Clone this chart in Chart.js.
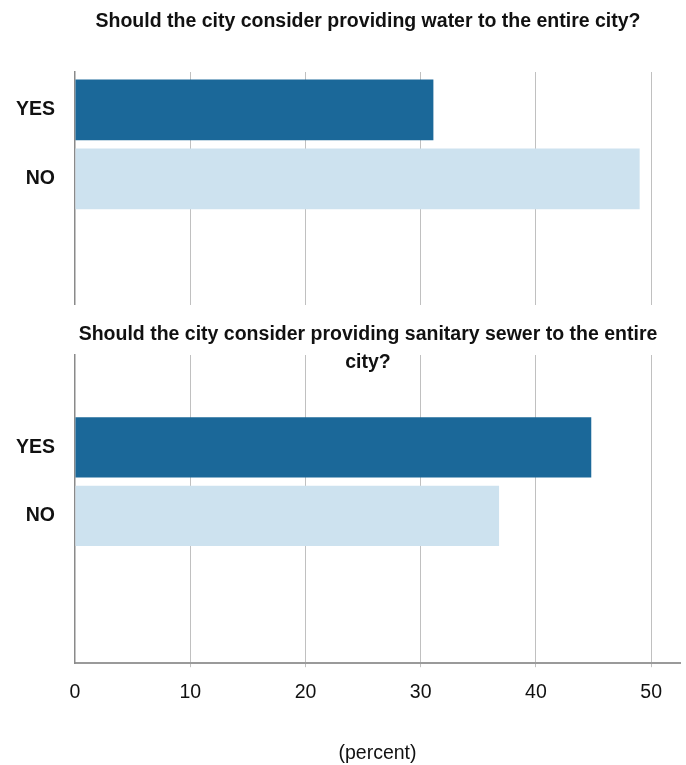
<!DOCTYPE html>
<html>
<head>
<meta charset="utf-8">
<script src="https://cdn.jsdelivr.net/npm/chart.js@4"></script>
<style>
    html, body { margin: 0; padding: 0; background: #ffffff; overflow: hidden; }
    .panel { position: relative; width: 736px; }
    #waterPanel { height: 305px; }
    #sewerPanel { height: 460px; }
</style>
</head>
<body>
<div class="panel" id="waterPanel"><canvas id="waterChart"></canvas></div>
<div class="panel" id="sewerPanel"><canvas id="sewerChart"></canvas></div>

<script>
// ===========================
// Survey answers (percent of respondents)
// ===========================
const answers = ['YES', 'NO'];
const waterValues = [31.1, 49.0];
const sewerValues = [44.8, 36.8];
const percentTicks = [0, 10, 20, 30, 40, 50];

const waterTitle = 'Should the city consider providing water to the entire city?';
const sewerTitle = ['Should the city consider providing sanitary sewer to the entire', 'city?'];
const axisTitle = '(percent)';

const barColors = ['#1b6899', '#cde2ef'];
const FONT = "'Liberation Sans', Arial, sans-serif";

/**
 * Horizontal bar panel; the answer axis is linear so the bars can sit
 * near the top of a taller plot area.
 */
function createPanel(canvasId, values, opts) {
    const ctx = document.getElementById(canvasId).getContext('2d');

    return new Chart(ctx, {
        type: 'bar',
        data: {
            datasets: [{
                data: answers.map((a, i) => ({ x: values[i], y: i })),
                backgroundColor: barColors,
                borderWidth: 0,
                categoryPercentage: 1,
                barPercentage: 0.88,
            }],
        },
        options: {
            indexAxis: 'y',
            responsive: true,
            maintainAspectRatio: false,
            animation: false,
            layout: { padding: 0 },
            plugins: {
                legend: { display: false },
                tooltip: { enabled: false },
                title: {
                    display: true,
                    text: opts.title,
                    color: '#111111',
                    font: { family: FONT, size: 19.5, weight: 'bold', lineHeight: opts.titleLineHeight },
                    padding: opts.titlePadding,
                },
            },
            scales: {
                x: {
                    type: 'linear',
                    min: 0,
                    max: 52.5,
                    afterBuildTicks: (scale) => {
                        scale.ticks = percentTicks.map(v => ({ value: v }));
                    },
                    // keep the plot clear of the right edge, the title stays centred on the canvas
                    afterFit: (scale) => {
                        scale.paddingRight = 56;
                    },
                    grid: {
                        color: (c) => (c.tick && c.tick.value === 0 ? 'rgba(0,0,0,0)' : '#c0c0c0'),
                        lineWidth: 1,
                        drawTicks: opts.showTicks,
                        tickLength: 4,
                    },
                    border: {
                        display: opts.showTicks,
                        color: '#9a9a9a',
                        width: 2,
                    },
                    ticks: {
                        display: opts.showTicks,
                        color: '#111111',
                        padding: 13.5,
                        maxRotation: 0,
                        font: { family: FONT, size: 19.5 },
                    },
                    title: {
                        display: opts.showTicks,
                        text: axisTitle,
                        color: '#111111',
                        font: { family: FONT, size: 19.5 },
                        padding: { top: 24, bottom: 0 },
                    },
                },
                y: {
                    type: 'linear',
                    reverse: true,
                    offset: false,
                    min: opts.yMin,
                    max: opts.yMax,
                    afterBuildTicks: (scale) => {
                        scale.ticks = answers.map((a, i) => ({ value: i }));
                    },
                    afterFit: (scale) => {
                        scale.width = 75;
                        scale.paddingTop = 0;
                        scale.paddingBottom = 0;
                    },
                    grid: { display: false, drawTicks: false },
                    border: { display: true, color: '#8a8a8a', width: 1.5 },
                    ticks: {
                        color: '#111111',
                        padding: 20,
                        font: { family: FONT, size: 19.5, weight: 'bold' },
                        callback: (value) => answers[value] ?? '',
                    },
                },
            },
        },
    });
}

createPanel('waterChart', waterValues, {
    title: waterTitle,
    titleLineHeight: 1.2,
    titlePadding: { top: 10, bottom: 38.6 },
    showTicks: false,
    yMin: -0.55,
    yMax: 2.83,
});

createPanel('sewerChart', sewerValues, {
    title: sewerTitle,
    titleLineHeight: 1.436,
    titlePadding: { top: 16, bottom: -22 },
    showTicks: true,
    yMin: -1.35,
    yMax: 3.15,
});
</script>
</body>
</html>
